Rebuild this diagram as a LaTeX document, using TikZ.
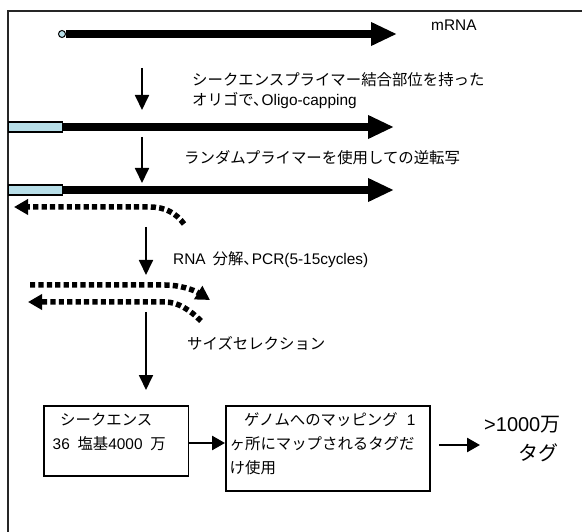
\documentclass[tikz,border=0pt]{standalone}
\usepackage{fontspec}
\setmainfont{Liberation Sans}
\newfontfamily\jp{Noto Sans CJK JP}
\usetikzlibrary{arrows.meta}
\definecolor{capblue}{RGB}{183,222,232}
\newcommand{\jpcomma}{{\jp 、}\kern-0.45em}
\begin{document}
\begin{tikzpicture}[x=1pt,y=-1pt,
  lbl/.style={anchor=west,inner sep=0pt,font=\fontsize{15.4}{18}\selectfont},
  biglbl/.style={inner sep=0pt,font=\fontsize{20}{24}\selectfont},
  strand/.style={line width=7.5pt,-{Triangle[length=26pt,width=22pt]}},
  stepdown/.style={line width=1.8pt,-{Triangle[length=15pt,width=14pt]}},
  cdna/.style={line width=5.5pt,dash pattern=on 5.2pt off 3.2pt,-{Triangle[length=14pt,width=15pt]}},
  oligobox/.style={draw,fill=capblue,line width=1.2pt,minimum width=54pt,minimum height=10pt,anchor=west,inner sep=0pt},
  boxnode/.style={draw,line width=1.8pt,inner sep=0pt,anchor=north west},
  flow/.style={line width=2.5pt,-{Triangle[length=13pt,width=14pt]}}
]
\useasboundingbox (0,0) rectangle (582,532);
% frame
\draw[line width=2pt,black!85] (590,11) -- (7.5,11) -- (7.5,540);

% row 1: mRNA
\node[circle,draw,fill=capblue,line width=1pt,minimum size=7pt,inner sep=0pt] (capm) at (62,34) {};
\coordinate (m1) at (397,34);
\draw[strand] (capm.east) -- (m1);
\node[lbl] (tmrna) at (431,25) {mRNA};

% step 1
\coordinate (a1s) at (142,68);
\coordinate (a1e) at (142,110);
\draw[stepdown] (a1s) -- (a1e);
\node[lbl] (t1a) at (192,80) {\jp シークエンスプライマー結合部位を持った};
\node[lbl] (t1b) at (192,101) {{\jp オリゴで}\jpcomma Oligo-capping};

% row 2
\node[oligobox] (o2) at (8,127) {};
\coordinate (r2e) at (394,127);
\draw[strand] (o2.east) -- (r2e);

% step 2
\coordinate (a2s) at (142,137);
\coordinate (a2e) at (142,183);
\draw[stepdown] (a2s) -- (a2e);
\node[lbl] (t2) at (184,158) {\jp ランダムプライマーを使用しての逆転写};

% row 3
\node[oligobox] (o3) at (8,190) {};
\coordinate (r3e) at (394,190);
\draw[strand] (o3.east) -- (r3e);

% reverse transcript (dotted)
\coordinate (c1s) at (184,224);
\coordinate (c1m) at (150,207);
\coordinate (c1e) at (14,207);
\draw[cdna] (c1s) .. controls (176,213) and (165,207) .. (c1m) -- (c1e);

% step 3
\coordinate (a3s) at (146,227);
\coordinate (a3e) at (146,275);
\draw[stepdown] (a3s) -- (a3e);
\node[lbl] (t3) at (173,260) {RNA\hspace{0.45em}{\jp 分解}\jpcomma PCR(5-15cycles)};

% PCR products (dotted)
\coordinate (p1s) at (30,285);
\coordinate (p1m) at (165,285);
\coordinate (p1e) at (210,300);
\draw[cdna] (p1s) -- (p1m) .. controls (180,285) and (194,290) .. (p1e);
\coordinate (p2s) at (201,321);
\coordinate (p2m) at (165,302);
\coordinate (p2e) at (28,302);
\draw[cdna] (p2s) .. controls (190,310) and (178,302) .. (p2m) -- (p2e);

% step 4
\coordinate (a4s) at (146,312);
\coordinate (a4e) at (146,390);
\draw[stepdown] (a4s) -- (a4e);
\node[lbl] (t4) at (187,343) {\jp サイズセレクション};

% boxes
\node[boxnode,minimum width=144.5pt,minimum height=70pt] (box1) at (43,405) {};
\node[lbl] (b1a) at (60,420) {\jp シークエンス};
\node[lbl] (b1b) at (52.5,444) {36\hspace{0.5em}{\jp 塩基}4000\hspace{0.5em}{\jp 万}};

\node[boxnode,minimum width=204pt,minimum height=85pt] (box2) at (225,405) {};
\node[lbl] (b2a) at (244,420) {{\jp ゲノムへのマッピング}\hspace{0.6em}1};
\node[lbl] (b2b) at (229.5,444) {\jp ヶ所にマップされるタグだ};
\node[lbl] (b2c) at (229.5,468) {\jp け使用};

\coordinate (f1s) at (box1.east |- 0,443);
\draw[flow] (f1s) -- (f1s -| box2.west);

\coordinate (f2s) at (box2.east |- 0,445);
\coordinate (f2e) at (480,445);
\draw[flow] ([xshift=8pt]f2s) -- (f2e);

\node[biglbl,anchor=west] (res1) at (484,425) {>1000{\jp 万}};
\node[biglbl] (res2) at (538,453) {\jp タグ};
\end{tikzpicture}
\end{document}
